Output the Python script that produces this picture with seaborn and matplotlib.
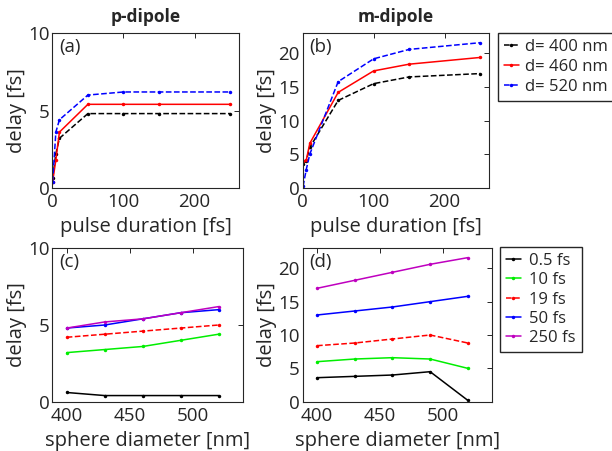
import numpy as np
import pandas as pd
import matplotlib
matplotlib.use("Agg")
import matplotlib.pyplot as plt
import seaborn as sns

# ---------------- data ----------------
pulse = [0.5, 5, 10, 50, 100, 150, 250]
diam_labels = ["d= 400 nm", "d= 460 nm", "d= 520 nm"]
p_d400 = [0.6, 2.2, 3.2, 4.8, 4.8, 4.8, 4.8]
p_d460 = [0.4, 1.8, 3.6, 5.4, 5.4, 5.4, 5.4]
p_d520 = [0.4, 3.6, 4.4, 6.0, 6.2, 6.2, 6.2]
m_d400 = [3.6, 4.0, 6.0, 13.0, 15.5, 16.5, 17.0]
m_d460 = [4.0, 4.1, 6.6, 14.2, 17.4, 18.4, 19.4]
m_d520 = [0.2, 2.7, 5.0, 15.8, 19.2, 20.6, 21.6]

diameter = [400, 430, 460, 490, 520]
dur_labels = ["0.5 fs", "10 fs", "19 fs", "50 fs", "250 fs"]
p_t05 = [0.6, 0.4, 0.4, 0.4, 0.4]
p_t10 = [3.2, 3.4, 3.6, 4.0, 4.4]
p_t19 = [4.2, 4.4, 4.6, 4.8, 5.0]
p_t50 = [4.8, 5.0, 5.4, 5.8, 6.0]
p_t250 = [4.8, 5.2, 5.4, 5.8, 6.2]
m_t05 = [3.6, 3.8, 4.0, 4.5, 0.2]
m_t10 = [6.0, 6.4, 6.6, 6.4, 5.0]
m_t19 = [8.4, 8.8, 9.4, 10.0, 8.8]
m_t50 = [13.0, 13.6, 14.2, 15.0, 15.8]
m_t250 = [17.0, 18.2, 19.4, 20.6, 21.6]

# ---------------- style ----------------
sns.set_style("white")
plt.rcParams['font.family'] = ['Open Sans', 'DejaVu Sans']
txt = '#262626'
plt.rcParams.update({
    'text.color': txt, 'axes.labelcolor': txt,
    'xtick.color': txt, 'ytick.color': txt,
    'axes.edgecolor': '#262626', 'axes.linewidth': 0.8,
})

fig = plt.figure(figsize=(6.12, 4.51), dpi=100)
W, H = 612.0, 451.0
def add_ax(l, r, t, b):
    return fig.add_axes([l / W, 1 - b / H, (r - l) / W, (b - t) / H])

axa = add_ax(52.3, 239.5, 33.3, 187.7)
axb = add_ax(302.7, 489.3, 33.3, 187.7)
axc = add_ax(52.3, 242.7, 248.3, 401.7)
axd = add_ax(302.7, 491.7, 248.3, 401.7)

top_styles = [('k', '--'), ('r', '-'), ('b', '--')]
bot_styles = [('k', '-'), ('#00ee00', '-'), ('r', '--'), ('b', '-'), ('m', '-')]

def draw(ax, x, series, labels, styles):
    for ys, lab, (c, ls) in zip(series, labels, styles):
        df = pd.DataFrame({'x': x, 'y': ys})
        sns.lineplot(data=df, x='x', y='y', ax=ax, color=c, linestyle=ls,
                     marker='o', markersize=2.5, markeredgewidth=0,
                     linewidth=1.1, label=lab, sort=False)

draw(axa, pulse, [p_d400, p_d460, p_d520], diam_labels, top_styles)
draw(axb, pulse, [m_d400, m_d460, m_d520], diam_labels, top_styles)
draw(axc, diameter, [p_t05, p_t10, p_t19, p_t50, p_t250], dur_labels, bot_styles)
draw(axd, diameter, [m_t05, m_t10, m_t19, m_t50, m_t250], dur_labels, bot_styles)

for ax, lab in zip([axa, axb, axc, axd], ['(a)', '(b)', '(c)', '(d)']):
    ax.tick_params(axis='both', direction='in', top=True, right=True,
                   length=3.5, width=0.7, labelsize=13.5)
    ax.tick_params(axis='x', pad=4)
    ax.tick_params(axis='y', pad=2)
    ax.set_ylabel('delay [fs]', fontsize=14.5, labelpad=1)
    ax.text(0.035, 0.97, lab, transform=ax.transAxes, fontsize=13.5,
            va='top', ha='left')
    ax.get_legend().remove()
    for s in ax.spines.values():
        s.set_visible(True)

for ax in (axa, axb):
    ax.set_xlim(0, 263)
    ax.set_xticks([0, 100, 200])
    ax.set_xlabel('pulse duration [fs]', fontsize=14.5, labelpad=4)
for ax in (axc, axd):
    ax.set_xlim(388.6, 539)
    ax.set_xticks([400, 450, 500])
    ax.set_xlabel('sphere diameter [nm]', fontsize=14.5, labelpad=4)

axa.set_ylim(0, 10); axa.set_yticks([0, 5, 10])
axc.set_ylim(0, 10); axc.set_yticks([0, 5, 10])
axb.set_ylim(0, 23); axb.set_yticks([0, 5, 10, 15, 20])
axd.set_ylim(0, 23); axd.set_yticks([0, 5, 10, 15, 20])

axa.set_title('p-dipole', fontsize=12.5, fontweight='bold', pad=8)
axb.set_title('m-dipole', fontsize=12.5, fontweight='bold', pad=8)

h, l = axb.get_legend_handles_labels()
fig.legend(h, l, loc='upper left', bbox_to_anchor=(498 / W, 1 - 32.7 / H),
           fontsize=12, frameon=True, fancybox=False, edgecolor='#262626',
           handlelength=0.9, handletextpad=0.35, labelspacing=0.25,
           borderpad=0.35, borderaxespad=0, framealpha=1)
h, l = axd.get_legend_handles_labels()
fig.legend(h, l, loc='upper left', bbox_to_anchor=(500 / W, 1 - 247 / H),
           fontsize=12, frameon=True, fancybox=False, edgecolor='#262626',
           handlelength=0.9, handletextpad=0.5, labelspacing=0.2,
           borderpad=0.35, borderaxespad=0, framealpha=1)

fig.savefig('out.png', dpi=100)
